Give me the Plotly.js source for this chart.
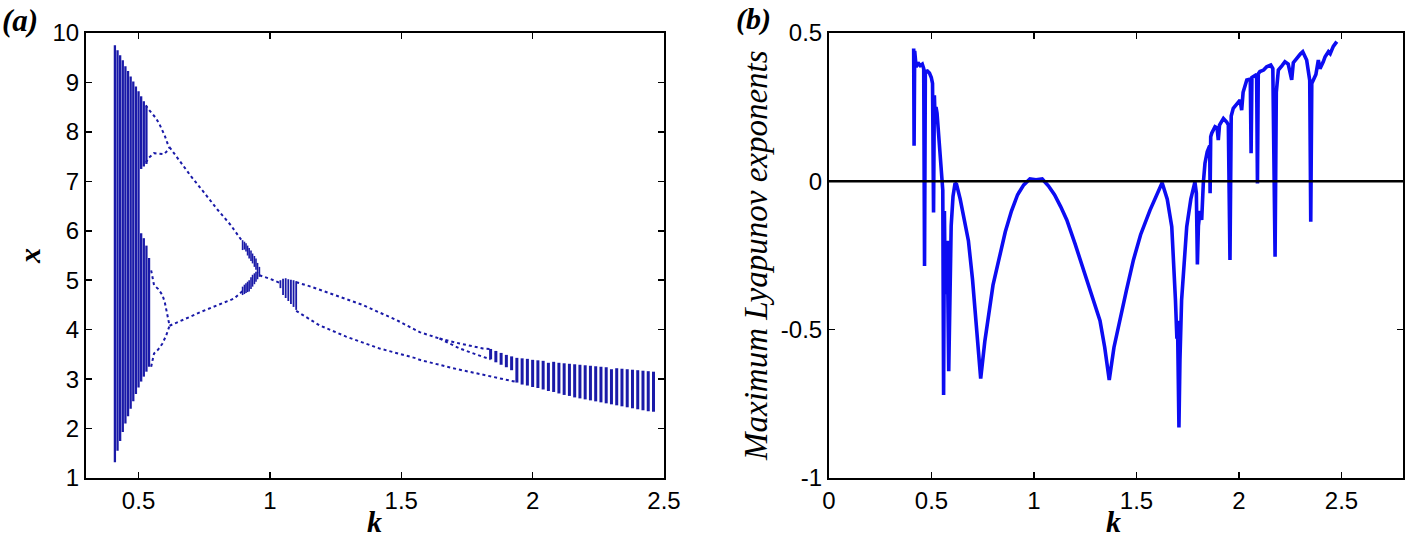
<!DOCTYPE html>
<html>
<head>
<meta charset="utf-8">
<script src="https://cdn.plot.ly/plotly-3.0.1.min.js"></script>
<style>
  html, body { margin: 0; padding: 0; background: #fff; }
  #chart { width: 1406px; height: 539px; }
</style>
</head>
<body>
<div id="chart"></div>
<script>
// ---- (a) bifurcation diagram: chaotic bands drawn as vertical stripes ----
// first chaotic band, k 0.41 - 0.50 (one stripe each)
var band1K  = [0.41, 0.42, 0.43, 0.44, 0.45, 0.46, 0.47, 0.48, 0.49, 0.50];
var band1Lo = [1.32, 1.55, 1.75, 1.93, 2.10, 2.25, 2.40, 2.55, 2.70, 2.83];
var band1Hi = [9.75, 9.65, 9.55, 9.45, 9.33, 9.23, 9.12, 9.02, 8.92, 8.82];
// band split in two, k 0.51 - 0.54
var band1UpK  = [0.51, 0.52, 0.53];
var band1UpLo = [7.25, 7.30, 7.35];
var band1UpHi = [8.72, 8.62, 8.52];
var band1DnK  = [0.51, 0.52, 0.53, 0.54];
var band1DnLo = [2.95, 3.05, 3.15, 3.25];
var band1DnHi = [5.95, 5.85, 5.70, 5.45];
// thickened branches before the merge near k = 0.96
var band2K  = [0.896, 0.903, 0.909, 0.915, 0.921, 0.928, 0.934, 0.941, 0.947, 0.953, 0.960,
               0.896, 0.903, 0.909, 0.915, 0.921, 0.928, 0.934, 0.941, 0.947, 0.953];
var band2Lo = [5.61, 5.62, 5.58, 5.50, 5.44, 5.39, 5.34, 5.27, 5.21, 5.14, 5.07,
               4.70, 4.72, 4.74, 4.76, 4.77, 4.82, 4.87, 4.92, 4.97, 5.02];
var band2Hi = [5.81, 5.78, 5.75, 5.70, 5.65, 5.60, 5.54, 5.49, 5.44, 5.35, 5.27,
               4.87, 4.91, 4.94, 4.97, 5.00, 5.06, 5.11, 5.14, 5.17, 5.16];
// small chaotic window k 1.04 - 1.10
var band3K  = [1.040, 1.050, 1.060, 1.070, 1.080, 1.090, 1.100];
var band3Lo = [4.84, 4.70, 4.64, 4.58, 4.52, 4.46, 4.40];
var band3Hi = [5.00, 5.03, 5.04, 5.02, 5.01, 5.00, 4.98];
// last chaotic band, k 1.84 - 2.46
var band4K  = [1.84, 1.86, 1.88, 1.90, 1.92,
               1.94, 1.96, 1.98, 2.00, 2.02, 2.04, 2.06, 2.08, 2.10, 2.12, 2.14, 2.16, 2.18, 2.20,
               2.22, 2.24, 2.26, 2.28, 2.30, 2.32, 2.34, 2.36, 2.38, 2.40, 2.42, 2.44, 2.46];
var band4Lo = [3.40, 3.34, 3.29, 3.24, 3.18,
               2.93, 2.89, 2.87, 2.84, 2.82, 2.79, 2.76, 2.74, 2.71, 2.68, 2.66, 2.63, 2.61, 2.59,
               2.57, 2.55, 2.53, 2.51, 2.49, 2.47, 2.45, 2.43, 2.41, 2.39, 2.37, 2.35, 2.34];
var band4Hi = [3.61, 3.57, 3.53, 3.49, 3.46,
               3.43, 3.42, 3.41, 3.39, 3.38, 3.37, 3.33, 3.35, 3.33, 3.32, 3.31, 3.30, 3.29, 3.28,
               3.27, 3.26, 3.25, 3.24, 3.20, 3.22, 3.21, 3.20, 3.19, 3.18, 3.17, 3.16, 3.15];

// periodic branches (k, x)
var upLoopTopK = [0.528, 0.534, 0.550, 0.566, 0.580, 0.591, 0.600, 0.610, 0.618];
var upLoopTopX = [8.54, 8.48, 8.38, 8.28, 8.15, 8.04, 7.92, 7.77, 7.69];
var upLoopBotK = [0.528, 0.540, 0.559, 0.580, 0.597, 0.610, 0.618];
var upLoopBotX = [7.38, 7.48, 7.57, 7.56, 7.55, 7.62, 7.69];
var dnLoopTopK = [0.548, 0.559, 0.575, 0.591, 0.600, 0.610, 0.618];
var dnLoopTopX = [5.20, 4.90, 4.82, 4.70, 4.55, 4.30, 4.08];
var dnLoopBotK = [0.548, 0.559, 0.575, 0.591, 0.605, 0.618];
var dnLoopBotX = [3.25, 3.52, 3.60, 3.72, 3.88, 4.08];
var p2UpK = [0.618, 0.650, 0.700, 0.750, 0.800, 0.850, 0.896];
var p2UpX = [7.69, 7.45, 7.10, 6.77, 6.43, 6.12, 5.78];
var p2DnK = [0.618, 0.650, 0.700, 0.737, 0.800, 0.864, 0.896];
var p2DnX = [4.08, 4.16, 4.27, 4.36, 4.50, 4.63, 4.78];
var p1K = [0.960, 1.000, 1.040];
var p1X = [5.10, 5.03, 4.94];
var q2UpK = [1.100, 1.150, 1.226, 1.300, 1.353, 1.420, 1.480, 1.530, 1.570, 1.646];
var q2UpX = [4.96, 4.88, 4.74, 4.60, 4.50, 4.34, 4.20, 4.06, 3.95, 3.82];
var q4aK = [1.646, 1.722, 1.811, 1.840];
var q4aX = [3.82, 3.72, 3.62, 3.61];
var q4bK = [1.646, 1.722, 1.811, 1.840];
var q4bX = [3.82, 3.62, 3.45, 3.40];
var q2DnK = [1.100, 1.188, 1.290, 1.417, 1.557, 1.570, 1.697, 1.824, 1.940];
var q2DnX = [4.38, 4.09, 3.86, 3.62, 3.42, 3.39, 3.22, 3.08, 2.94];

// ---- (b) maximum Lyapunov exponent ----
var lyK = [0.413, 0.415, 0.418, 0.425, 0.434, 0.445, 0.455, 0.462, 0.466, 0.470, 0.480, 0.490,
           0.499, 0.505, 0.510, 0.514, 0.518, 0.522, 0.527, 0.532, 0.538, 0.544, 0.550, 0.555,
           0.559, 0.563, 0.567, 0.572, 0.577, 0.584, 0.590, 0.596, 0.605, 0.615, 0.622, 0.640,
           0.660, 0.680, 0.700, 0.720, 0.740, 0.760, 0.780, 0.800, 0.830, 0.860, 0.890, 0.920,
           0.950, 0.980, 1.010, 1.040, 1.070, 1.100, 1.130, 1.160, 1.200, 1.241, 1.280, 1.322,
           1.345, 1.367, 1.390, 1.420, 1.450, 1.485, 1.520, 1.566, 1.600, 1.625, 1.650, 1.672,
           1.690, 1.697, 1.700, 1.707, 1.712, 1.720, 1.745, 1.765, 1.785, 1.792, 1.797, 1.802,
           1.810, 1.818, 1.826, 1.830, 1.834, 1.845, 1.850, 1.857, 1.859, 1.862, 1.867, 1.883,
           1.893, 1.899, 1.905, 1.924, 1.940, 1.948, 1.956, 1.962, 1.972, 1.990, 2.005, 2.013,
           2.020, 2.038, 2.055, 2.059, 2.063, 2.070, 2.086, 2.090, 2.094, 2.102, 2.120, 2.135,
           2.155, 2.165, 2.176, 2.182, 2.192, 2.210, 2.224, 2.240, 2.257, 2.265, 2.281, 2.300,
           2.311, 2.330, 2.345, 2.350, 2.355, 2.362, 2.375, 2.387, 2.395, 2.411, 2.420, 2.436,
           2.445, 2.460, 2.477];
var lyL = [0.448, 0.120, 0.440, 0.385, 0.400, 0.390, 0.395, 0.380, -0.285, 0.370, 0.372, 0.365,
           0.350, 0.330, -0.105, 0.290, 0.200, 0.250, 0.230, 0.180, 0.120, 0.060, 0.020, -0.030,
           -0.720, -0.100, -0.380, -0.250, -0.200, -0.640, -0.300, -0.150, -0.050, -0.006, -0.010, -0.060,
           -0.130, -0.200, -0.330, -0.490, -0.665, -0.540, -0.440, -0.350, -0.260, -0.170, -0.100, -0.045,
           -0.012, 0.008, 0.005, 0.008, -0.015, -0.045, -0.085, -0.130, -0.210, -0.300, -0.380, -0.470,
           -0.560, -0.670, -0.560, -0.460, -0.370, -0.265, -0.180, -0.097, -0.045, -0.005, -0.060, -0.153,
           -0.400, -0.530, -0.470, -0.830, -0.600, -0.400, -0.153, -0.060, -0.002, -0.040, -0.280, -0.150,
           -0.100, -0.130, -0.005, 0.050, 0.061, 0.100, 0.106, 0.120, -0.040, 0.150, 0.162, 0.184,
           0.180, 0.139, 0.190, 0.212, 0.200, 0.190, -0.265, 0.220, 0.246, 0.262, 0.274, 0.240,
           0.300, 0.342, 0.345, 0.095, 0.350, 0.353, 0.360, -0.007, 0.362, 0.370, 0.375, 0.386,
           0.392, 0.380, -0.254, 0.300, 0.375, 0.390, 0.403, 0.395, 0.342, 0.400, 0.415, 0.430,
           0.437, 0.409, 0.340, -0.136, 0.330, 0.342, 0.360, 0.409, 0.380, 0.403, 0.420, 0.437,
           0.430, 0.455, 0.471];
var zeroK = [0, 2.8];
var zeroL = [0, 0];

var leftBlue = '#1a1aa8';
var rightBlue = '#0c0cf2';
var tickFont = {family: 'Liberation Sans, Arial, sans-serif', size: 24, color: '#000'};
var serif = 'Liberation Serif, Times New Roman, serif';

function stripes(ks, lo, hi) {
  var x = [], y = [];
  for (var i = 0; i < ks.length; i++) {
    x.push(ks[i], ks[i], null);
    y.push(lo[i], hi[i], null);
  }
  return {x: x, y: y};
}

var data = [];
function addStripes(p, w) {
  data.push({
    x: p.x, y: p.y, type: 'scatter', mode: 'lines', connectgaps: false,
    line: {color: leftBlue, width: w}, hoverinfo: 'skip'
  });
}
addStripes(stripes(band1K, band1Lo, band1Hi), 2.3);
addStripes(stripes(band1UpK, band1UpLo, band1UpHi), 2.3);
addStripes(stripes(band1DnK, band1DnLo, band1DnHi), 2.3);
addStripes(stripes(band2K, band2Lo, band2Hi), 1.6);
addStripes(stripes(band3K, band3Lo, band3Hi), 1.8);
addStripes(stripes(band4K, band4Lo, band4Hi), 3);

var branches = [
  [upLoopTopK, upLoopTopX], [upLoopBotK, upLoopBotX],
  [dnLoopTopK, dnLoopTopX], [dnLoopBotK, dnLoopBotX],
  [p2UpK, p2UpX], [p2DnK, p2DnX], [p1K, p1X],
  [q2UpK, q2UpX], [q4aK, q4aX], [q4bK, q4bX], [q2DnK, q2DnX]
];
branches.forEach(function (b) {
  data.push({
    x: b[0], y: b[1], type: 'scatter', mode: 'lines',
    line: {color: leftBlue, width: 2, dash: 'dot'}
  });
});

data.push({
  x: lyK, y: lyL, xaxis: 'x2', yaxis: 'y2', type: 'scatter', mode: 'lines',
  line: {color: rightBlue, width: 3.6}
});
data.push({
  x: zeroK, y: zeroL, xaxis: 'x2', yaxis: 'y2', type: 'scatter', mode: 'lines',
  line: {color: '#000', width: 2.5}
});

function axis(extra) {
  var a = {
    showline: true, linecolor: '#000', linewidth: 2, mirror: 'ticks',
    ticks: 'inside', ticklen: 6, tickwidth: 1.5, tickcolor: '#000',
    showgrid: false, zeroline: false, tickfont: tickFont, fixedrange: true
  };
  for (var key in extra) a[key] = extra[key];
  return a;
}

var figW = 1406, plotTop = 33, plotBottom = 478;
function px(x) { return x / figW; }
function py(y) { return (plotBottom - y) / (plotBottom - plotTop); }

function label(text, x, y, size, angle, bold) {
  return {
    text: text, x: px(x), y: py(y), xref: 'paper', yref: 'paper',
    xanchor: 'center', yanchor: 'middle', showarrow: false, textangle: angle,
    font: {family: serif, size: size, style: 'italic', weight: bold ? 'bold' : 'normal', color: '#000'}
  };
}

var layout = {
  width: 1406,
  height: 539,
  margin: {l: 0, r: 0, t: 33, b: 61, pad: 0},
  paper_bgcolor: '#fff',
  plot_bgcolor: '#fff',
  showlegend: false,
  xaxis: axis({domain: [px(86), px(664)], range: [0.3, 2.5],
               tickvals: [0.5, 1, 1.5, 2, 2.5], ticklabelstandoff: 0, anchor: 'y'}),
  yaxis: axis({domain: [0, 1], range: [1, 10], dtick: 1, tick0: 1,
               ticklabelstandoff: 0, anchor: 'x'}),
  xaxis2: axis({domain: [px(829), px(1403)], range: [0, 2.8],
                tickvals: [0, 0.5, 1, 1.5, 2, 2.5], ticktext: ['0', '0.5', '1', '1.5', '2', '2.5'],
                ticklabelstandoff: 0, anchor: 'y2'}),
  yaxis2: axis({domain: [0, 1], range: [-1, 0.5],
                tickvals: [-1, -0.5, 0, 0.5], ticktext: ['-1', '-0.5', '0', '0.5'],
                ticklabelstandoff: 0, anchor: 'x2'}),
  annotations: [
    label('(a)', 20, 21, 31, 0, true),
    label('(b)', 753, 19, 30, 0, true),
    label('x', 30, 256, 30, -90, true),
    label('k', 374, 521, 30, 0, true),
    label('k', 1113, 521, 30, 0, true),
    label('Maximum Lyapunov exponents', 756, 256, 33, -90, false)
  ]
};

Plotly.newPlot('chart', data, layout, {staticPlot: true, displayModeBar: false});
</script>
</body>
</html>
